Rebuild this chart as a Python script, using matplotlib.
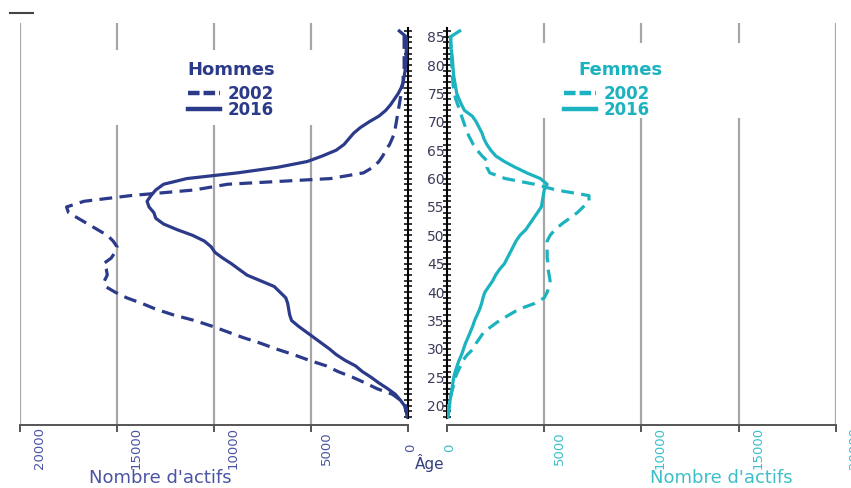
import numpy as np
import matplotlib.pyplot as plt
from matplotlib.lines import Line2D
from matplotlib.patches import Rectangle
from matplotlib.transforms import blended_transform_factory, offset_copy

# ages 18 .. 86
ages = np.arange(18, 87)

men_2002 = [20, 50, 120, 400, 800, 1600, 2200, 2850, 3600, 4200,
            5100, 5900, 6800, 7600, 8500, 9300, 10100, 11000, 12100, 13000,
            13700, 14500, 15100, 15600, 15650, 15500, 15550, 15700, 15300, 15100,
            15000, 15200, 15500, 16000, 16500, 17000, 17500, 17600, 16700, 14300,
            11000, 9300, 4000, 2300, 1800, 1500, 1300, 1150, 950, 820,
            700, 650, 600, 550, 500, 450, 400, 350, 300, 250,
            250, 200, 200, 200, 200, 200, 200, 200, 150]
men_2016 = [30, 100, 180, 400, 650, 1050, 1500, 1900, 2350, 2700,
            3250, 3700, 4050, 4450, 4850, 5250, 5650, 6000, 6100, 6150,
            6200, 6300, 6600, 6900, 7600, 8300, 8700, 9100, 9550, 9950,
            10150, 10500, 11100, 11900, 12600, 13000, 13100, 13350, 13450, 13250,
            13000, 12600, 11400, 8800, 6700, 5200, 4400, 3700, 3300, 3050,
            2800, 2450, 2000, 1500, 1150, 900, 700, 500, 350, 250,
            200, 150, 120, 100, 100, 80, 80, 100, 450]
women_2002 = [20, 40, 60, 120, 200, 290, 370, 430, 550, 700,
              820, 1050, 1350, 1500, 1700, 1900, 2300, 2700, 3200, 3700,
              4500, 5000, 5150, 5250, 5300, 5250, 5200, 5200, 5150, 5150,
              5150, 5150, 5300, 5550, 5900, 6300, 6700, 7000, 7300, 7300,
              5600, 4500, 3000, 2200, 2050, 2100, 1800, 1550, 1350, 1200,
              1050, 950, 850, 750, 670, 550, 450, 380, 330, 300,
              280, 260, 250, 240, 230, 220, 200, 180, 200]
women_2016 = [50, 100, 130, 160, 220, 260, 300, 350, 420, 520,
              620, 750, 850, 950, 1080, 1200, 1320, 1420, 1550, 1680,
              1780, 1850, 1950, 2150, 2350, 2500, 2700, 2950, 3100, 3250,
              3400, 3550, 3750, 4050, 4250, 4450, 4650, 4850, 4900, 4950,
              5000, 5150, 4800, 4100, 3500, 2950, 2500, 2250, 2050, 1900,
              1800, 1650, 1500, 1300, 900, 750, 620, 500, 450, 400,
              350, 320, 300, 280, 250, 200, 180, 200, 650]

x_ticks = [0, 5000, 10000, 15000, 20000]
age_ticks = list(range(20, 86, 5))
years = ['2002', '2016']

NAVY = '#2c3a8a'
TEAL = '#1bb3bf'
NAVY_TXT = '#4a54a3'
TEAL_TXT = '#3cbfca'
GRID = '#a6a6a6'

W, H = 851, 488
fig = plt.figure(figsize=(W / 100, H / 100), dpi=100)
plt.rcParams['font.family'] = ['DejaVu Sans']


def fx(px):
    return px / W


def fy(py):
    return 1 - py / H


ax_m = fig.add_axes([fx(20), fy(425), fx(408 - 20), (425 - 23) / H])
ax_f = fig.add_axes([fx(447), fy(425), fx(836 - 447), (425 - 23) / H])

ylim = (16.6, 87.4)

for ax, color, txtcol, d02, d16, side in [
        (ax_m, NAVY, NAVY_TXT, men_2002, men_2016, 'left'),
        (ax_f, TEAL, TEAL_TXT, women_2002, women_2016, 'right')]:
    ax.set_ylim(*ylim)
    if side == 'left':
        ax.set_xlim(20000, 0)
    else:
        ax.set_xlim(0, 20000)
    ax.set_facecolor('none')

    # vertical grid lines
    for v in x_ticks[1:]:
        ax.axvline(v, color=GRID, lw=1.6, zorder=0.5)

    ax.plot(d02, ages, color=color, lw=2.3, ls=(0, (4, 2.3)), zorder=3)
    ax.plot(d16, ages, color=color, lw=2.3, zorder=3)

    for s in ax.spines.values():
        s.set_visible(False)
    ax.spines['bottom'].set_visible(True)
    ax.spines['bottom'].set_color('#555555')
    ax.spines['bottom'].set_linewidth(1.4)
    ax.set_xticks(x_ticks)
    ax.set_xticklabels([])
    ax.tick_params(axis='x', direction='out', length=5, width=1.4,
                   color='#555555')

    # rotated tick labels, shifted right as in the original
    trans = blended_transform_factory(ax.transData, ax.transAxes)
    for v in x_ticks:
        lab = str(v)
        dx = {1: 3, 4: 15, 5: 19}[len(lab)]
        t = offset_copy(trans, fig=fig, x=dx, y=-23, units='dots')
        ax.text(v, 0, lab, transform=t, rotation=90, ha='center',
                va='center', fontsize=9.5, color=txtcol, clip_on=False)

    # age axis spine in the middle
    sp = 'right' if side == 'left' else 'left'
    ax.spines[sp].set_visible(True)
    ax.spines[sp].set_color('black')
    ax.spines[sp].set_linewidth(1.5)
    ax.spines[sp].set_bounds(17.8, 86.6)
    ax.yaxis.set_ticks_position(sp)
    ax.set_yticks(age_ticks)
    ax.set_yticks(ages, minor=True)
    ax.tick_params(axis='y', which='both', direction='inout', length=6,
                   width=1.1, color='black')
    if side == 'left':
        ax.set_yticklabels([])
    else:
        ax.set_yticklabels([str(a) for a in age_ticks])
        ax.tick_params(axis='y', which='major', pad=-1.5, labelsize=10,
                       labelcolor='#3c3c5c')

# white boxes behind the legends that break the grid lines
ax_m.add_patch(Rectangle((4200, 69.5), 11400, 13.2, facecolor='white',
                         edgecolor='none', zorder=1))
ax_f.add_patch(Rectangle((4500, 70.7), 11100, 13.2, facecolor='white',
                         edgecolor='none', zorder=1))

for ax, color, title, x0, tx in [(ax_m, NAVY, 'Hommes', 20, 231),
                                 (ax_f, TEAL, 'Femmes', 447, 620)]:
    w = 388 if ax is ax_m else 389
    cx = (tx - x0) / w
    ax.text(cx, (425 - 70) / 402, title, transform=ax.transAxes,
            ha='center', va='center', fontsize=13, fontweight='bold',
            color=color, zorder=5)
    lx = (231 - x0) / w if ax is ax_m else (607 - x0) / w
    handles = [Line2D([], [], color=color, lw=3.2, ls=(0, (2.6, 0.9))),
               Line2D([], [], color=color, lw=3.2)]
    leg = ax.legend(handles, years, loc='upper center',
                    bbox_to_anchor=(lx, (425 - 85) / 402), frameon=False,
                    fontsize=12, labelspacing=-0.1, handlelength=1.9,
                    handletextpad=0.5, borderpad=0, borderaxespad=0)
    for t in leg.get_texts():
        t.set_color(color)
        t.set_fontweight('bold')
    leg.set_zorder(5)

fig.text(fx(430), fy(463), 'Âge', ha='center', va='center', fontsize=11,
         color='#33407a')
fig.text(fx(160), fy(478), "Nombre d'actifs", ha='center', va='center',
         fontsize=13, color=NAVY_TXT)
fig.text(fx(721), fy(478), "Nombre d'actifs", ha='center', va='center',
         fontsize=13, color=TEAL_TXT)

# small mark at the top-left corner
fig.add_artist(Line2D([fx(10), fx(33)], [fy(13), fy(13)], color='#444444',
                      lw=1.5))

fig.savefig('out.png', dpi=100)
